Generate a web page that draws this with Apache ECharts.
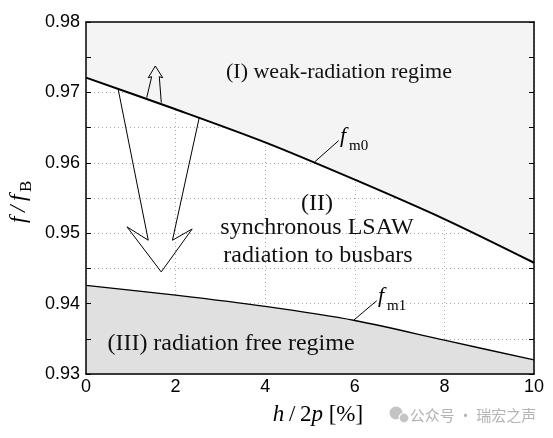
<!DOCTYPE html>
<html lang="en">
<head>
<meta charset="utf-8">
<script src="https://cdn.jsdelivr.net/npm/echarts@6/dist/echarts.min.js"></script>
<style type="text/css">
	html, body { margin: 0; padding: 0; background: #fff; }
	#chart { width: 553px; height: 438px; }
</style>
</head>
<body>
<div id="chart"></div>
<script type="text/javascript">
	// values
	var hVals = [0, 2, 4, 6, 8, 10];
	var fm0 = [0.9721, 0.9676, 0.9629, 0.9576, 0.9520, 0.9458];
	var fm1 = [0.9426, 0.9412, 0.9396, 0.9376, 0.9348, 0.9320];

	// hollow arrows (outline points, data coords)
	var downArrowH = [0.72, 1.39, 0.915, 1.68, 2.37, 1.93, 2.53];
	var downArrowF = [0.9704, 0.9490, 0.9509, 0.9445, 0.9506, 0.9490, 0.9665];
	var upArrowH = [1.355, 1.466, 1.39, 1.547, 1.712, 1.636, 1.681];
	var upArrowF = [0.96925, 0.97223, 0.97209, 0.97375, 0.97209, 0.97223, 0.96854];

	// leader lines for the curve labels
	var m0LeaderH = [5.11, 5.64];
	var m0LeaderF = [0.96016, 0.96315];
	var m1LeaderH = [5.98, 6.49];
	var m1LeaderF = [0.93767, 0.94041];

	var yTicks = ['0.93', '0.94', '0.95', '0.96', '0.97', '0.98'];

	function pairs(xs, ys) {
		return xs.map(function (x, i) { return [x, ys[i]]; });
	}

	var serif = '"Liberation Serif", "DejaVu Serif", serif';
	var sans = '"Liberation Sans", Arial, sans-serif';
	var frame = { color: '#000', width: 1.5 };
	var dots = { color: '#aaa', type: [1, 3], width: 1 };

	var chart = echarts.init(document.getElementById('chart'));

	function thinLine(name, data) {
		return {
			name: name,
			type: 'line',
			data: data,
			symbol: 'none',
			silent: true,
			z: 4,
			lineStyle: { color: '#000', width: 1 }
		};
	}

	// plain frame axis drawn above the fills
	function frameX(pos) {
		return {
			type: 'value', position: pos, min: 0, max: 10, interval: 2, z: 10,
			axisLine: { show: true, onZero: false, lineStyle: frame },
			axisTick: { show: false }, axisLabel: { show: false }, splitLine: { show: false }
		};
	}
	function frameY(pos) {
		return {
			type: 'value', position: pos, min: 0.93, max: 0.98, interval: 0.005, z: 10,
			axisLine: { show: true, onZero: false, lineStyle: frame },
			axisTick: { show: true, inside: true, length: 5, lineStyle: { color: '#000' } },
			axisLabel: { show: false }, splitLine: { show: false }
		};
	}

	function regionText(x, y, text, size) {
		return {
			type: 'text', x: x, y: y, z: 100,
			style: { text: text, font: size + 'px ' + serif, fill: '#111', align: 'center', verticalAlign: 'middle' }
		};
	}

	chart.setOption({
		animation: false,
		grid: { left: 86, right: 19, top: 22, bottom: 64 },
		xAxis: [{
			type: 'value',
			min: 0,
			max: 10,
			interval: 2,
			axisLine: { show: false },
			axisTick: { show: false },
			axisLabel: { color: '#000', fontFamily: sans, fontSize: 18, margin: 4 },
			splitLine: { show: true, lineStyle: dots }
		}, frameX('top'), frameX('bottom')],
		yAxis: [{
			type: 'value',
			min: 0.93,
			max: 0.98,
			interval: 0.005,
			axisLine: { show: false },
			axisTick: { show: false },
			axisLabel: {
				color: '#000',
				fontFamily: sans,
				fontSize: 18,
				margin: 6,
				formatter: function (v) {
					var s = v.toFixed(2);
					return yTicks.indexOf(s) >= 0 && Math.abs(v - parseFloat(s)) < 1e-6 ? s : '';
				}
			},
			splitLine: { show: true, lineStyle: dots }
		}, frameY('left'), frameY('right')],
		series: [{
			name: 'fm0',
			type: 'line',
			data: pairs(hVals, fm0),
			smooth: 0.3,
			symbol: 'none',
			z: 3,
			lineStyle: { color: '#000', width: 2 },
			areaStyle: { origin: 'end', color: '#f4f4f4', opacity: 1 }
		}, {
			name: 'fm1',
			type: 'line',
			data: pairs(hVals, fm1),
			smooth: 0.3,
			symbol: 'none',
			z: 3,
			lineStyle: { color: '#000', width: 1.3 },
			areaStyle: { origin: 'start', color: '#e0e0e0', opacity: 1 }
		},
			thinLine('down', pairs(downArrowH, downArrowF)),
			thinLine('up', pairs(upArrowH, upArrowF)),
			thinLine('m0', pairs(m0LeaderH, m0LeaderF)),
			thinLine('m1', pairs(m1LeaderH, m1LeaderF))
		],
		graphic: [
			regionText(339, 72, '(I) weak-radiation regime', 22),
			regionText(317, 204, '(II)', 24),
			regionText(317, 228, 'synchronous LSAW', 24),
			regionText(318, 256, 'radiation to busbars', 24),
			regionText(231, 344, '(III) radiation free regime', 24),
			// curve labels
			{ type: 'text', x: 340, y: 136, z: 100, style: { text: 'f', font: 'italic 22px ' + serif, fill: '#000', align: 'left', verticalAlign: 'middle' } },
			{ type: 'text', x: 349, y: 146, z: 100, style: { text: 'm0', font: '15px ' + serif, fill: '#000', align: 'left', verticalAlign: 'middle' } },
			{ type: 'text', x: 378, y: 296, z: 100, style: { text: 'f', font: 'italic 22px ' + serif, fill: '#000', align: 'left', verticalAlign: 'middle' } },
			{ type: 'text', x: 387, y: 306, z: 100, style: { text: 'm1', font: '15px ' + serif, fill: '#000', align: 'left', verticalAlign: 'middle' } },
			// axis names
			{
				type: 'text', x: 318, y: 415, z: 100,
				style: {
					text: '{i|h}\u2009/\u20092{i|p} [%]',
					font: '23px ' + serif, fill: '#000', align: 'center', verticalAlign: 'middle',
					rich: { i: { fontStyle: 'italic', fontFamily: serif, fontSize: 23 } }
				}
			},
			{
				type: 'group', x: 19, y: 199, rotation: Math.PI / 2, z: 100,
				children: [
					{ type: 'text', x: -24, y: 0, style: { text: 'f\u2009/\u2009f', font: 'italic 23px ' + serif, fill: '#000', align: 'left', verticalAlign: 'middle' } },
					{ type: 'text', x: 7, y: 8, style: { text: 'B', font: '17px ' + serif, fill: '#000', align: 'left', verticalAlign: 'middle' } }
				]
			},
			// watermark
			{ type: 'circle', z: 100, shape: { cx: 396, cy: 413, r: 6.5 }, style: { fill: '#c4c4c4' } },
			{ type: 'circle', z: 100, shape: { cx: 404, cy: 418, r: 5 }, style: { fill: '#c4c4c4', stroke: '#fff', lineWidth: 1.2 } },
			{ type: 'text', x: 473, y: 415, z: 100, style: { text: '公众号 · 瑞宏之声', font: '15px "Noto Sans CJK SC", sans-serif', fill: '#b4b4b4', align: 'center', verticalAlign: 'middle' } }
		]
	});
</script>
</body>
</html>
